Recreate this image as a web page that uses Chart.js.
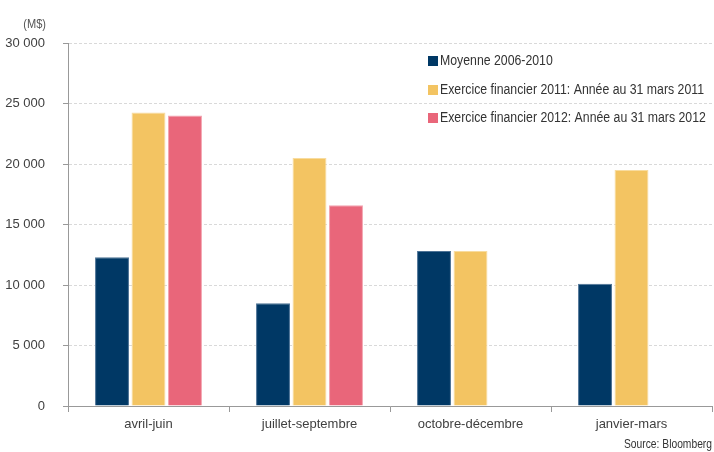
<!DOCTYPE html>
<html>
<head>
<meta charset="utf-8">
<script src="https://cdn.jsdelivr.net/npm/chart.js@4.4.0/dist/chart.umd.min.js"></script>
<style>
    html, body { margin: 0; padding: 0; background: #fff; }
    #wrap { width: 714px; height: 452px; position: relative; }
</style>
</head>
<body>
<div id="wrap"><canvas id="myBarChart"></canvas></div>
<script>
// --- Data ---
const categories = ['avril-juin', 'juillet-septembre', 'octobre-décembre', 'janvier-mars'];
const moyenne = [12300, 8500, 12800, 10100];
const exercice2011 = [24250, 20500, 12800, 19500];
const exercice2012 = [24000, 16600, null, null];
const seriesLabels = [
    'Moyenne 2006-2010',
    'Exercice financier 2011: Année au 31 mars 2011',
    'Exercice financier 2012: Année au 31 mars 2012'
];
const yTicks = [0, 5000, 10000, 15000, 20000, 25000, 30000];

const FONT = "'Liberation Sans Narrow', 'Arial Narrow', 'Liberation Sans', sans-serif";
const colors = ['#003865', '#F3C462', '#E9667A'];
const edges = ['#4d7396', '#f8dc9f', '#f3a3af'];

// format 30000 -> "30 000"
function fmt(v) {
    return String(v).replace(/\B(?=(\d{3})+(?!\d))/g, ' ');
}

// text squeezed horizontally to look like the narrow font of the original
function narrowText(ctx, text, x, y, sx) {
    ctx.save();
    ctx.translate(x, y);
    ctx.scale(sx, 1);
    ctx.fillText(text, 0, 0);
    ctx.restore();
}

// legend, unit label and source drawn on the canvas
const extras = {
    id: 'extras',
    afterDraw(chart) {
        const ctx = chart.ctx;
        ctx.save();
        ctx.textBaseline = 'middle';
        ctx.font = '14px ' + FONT;
        const sx = 264 / ctx.measureText(seriesLabels[1]).width;
        const rows = [61, 90, 118];
        seriesLabels.forEach((label, i) => {
            ctx.fillStyle = colors[i];
            ctx.fillRect(428, rows[i] - 5, 10, 10);
            ctx.fillStyle = '#333';
            ctx.textAlign = 'left';
            narrowText(ctx, label, 440, rows[i], sx);
        });
        ctx.font = '13px ' + FONT;
        ctx.fillStyle = '#555';
        ctx.textAlign = 'right';
        narrowText(ctx, '(M$)', 46, 24, 0.85);
        ctx.font = '12px ' + FONT;
        ctx.fillStyle = '#333';
        narrowText(ctx, 'Source: Bloomberg', 712, 445, 88 / ctx.measureText('Source: Bloomberg').width);
        ctx.restore();
    }
};

const datasets = [moyenne, exercice2011, exercice2012].map((d, i) => ({
    label: seriesLabels[i],
    data: d,
    backgroundColor: colors[i],
    borderColor: edges[i],
    borderWidth: 1,
    categoryPercentage: 0.68,
    barPercentage: 0.93
}));

new Chart(document.getElementById('myBarChart'), {
    type: 'bar',
    data: { labels: categories, datasets: datasets },
    options: {
        responsive: true,
        maintainAspectRatio: false,
        animation: false,
        layout: { padding: { top: 43, right: 2, bottom: 0, left: 0 } },
        plugins: {
            legend: { display: false },
            tooltip: { enabled: false }
        },
        scales: {
            x: {
                grid: {
                    offset: true,
                    drawOnChartArea: false,
                    drawTicks: true,
                    tickLength: 6,
                    color: '#999'
                },
                border: { color: '#999', width: 1 },
                ticks: {
                    color: '#404040',
                    font: { family: FONT, size: 13 },
                    padding: 5
                },
                afterFit: (s) => { s.height = 46; }
            },
            y: {
                min: 0,
                max: 30000,
                afterBuildTicks: (s) => { s.ticks = yTicks.map(v => ({ value: v })); },
                grid: {
                    color: '#d9d9d9',
                    tickColor: '#999',
                    tickLength: 5,
                    drawTicks: true
                },
                border: { color: '#999', width: 1, dash: [3, 2], display: true },
                ticks: {
                    color: '#404040',
                    font: { family: FONT, size: 13 },
                    padding: 18,
                    callback: (v) => fmt(v)
                },
                afterFit: (s) => { s.width = 68; }
            }
        }
    },
    plugins: [extras]
});
</script>
</body>
</html>
